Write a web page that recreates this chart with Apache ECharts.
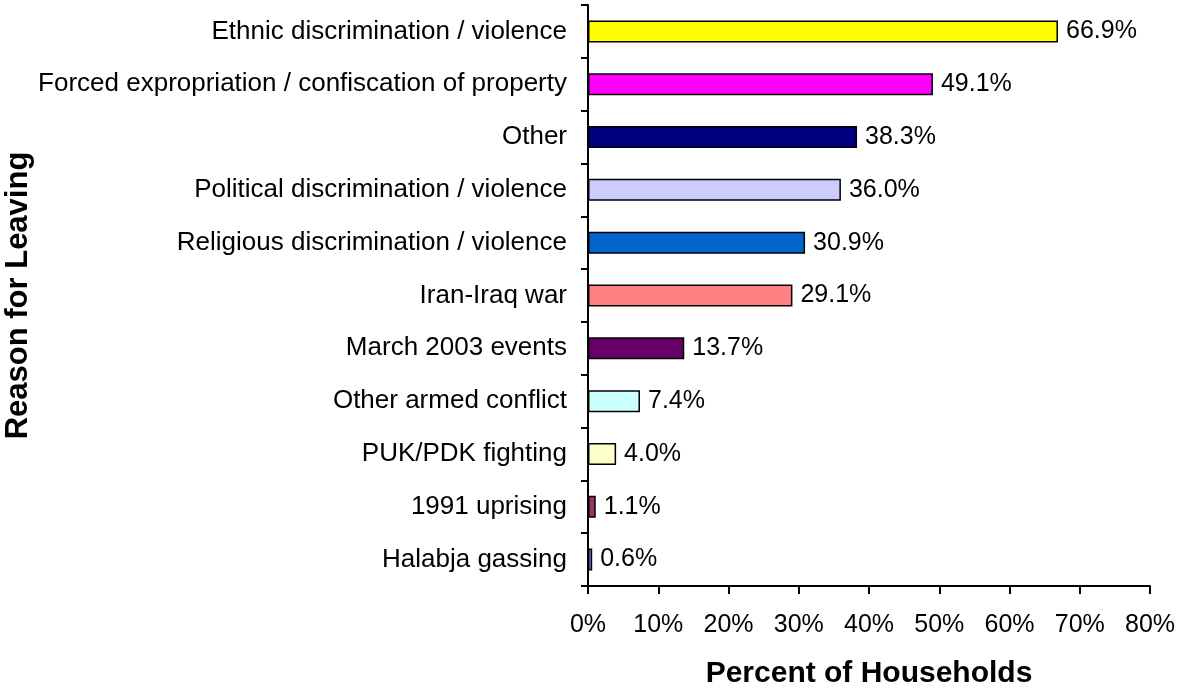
<!DOCTYPE html>
<html><head><meta charset="utf-8">
<script src="https://cdn.jsdelivr.net/npm/echarts@6/dist/echarts.min.js"></script>
<style>html,body{margin:0;padding:0;background:#fff}#c{width:1177px;height:688px}</style>
</head><body><div id="c"></div>
<script>
const categories = ["Halabja gassing","1991 uprising","PUK/PDK fighting","Other armed conflict","March 2003 events","Iran-Iraq war","Religious discrimination / violence","Political discrimination / violence","Other","Forced expropriation / confiscation of property","Ethnic discrimination / violence"];
const values = [0.6,1.1,4.0,7.4,13.7,29.1,30.9,36.0,38.3,49.1,66.9];
const colors = ["#8080FF","#993366","#FFFFCC","#CCFFFF","#660066","#FF8080","#0066CC","#CCCCFF","#000080","#FF00FF","#FFFF00"];
const xTicks = [0,10,20,30,40,50,60,70,80];
const chart = echarts.init(document.getElementById('c'));
const font = 'Liberation Sans, Arial, sans-serif';
chart.setOption({
  animation:false,
  grid:{left:588,right:27,top:5,bottom:102,containLabel:false,outerBoundsMode:'none'},
  xAxis:{type:'value',min:xTicks[0],max:xTicks[xTicks.length-1],interval:10,
    name:'Percent of Households',nameLocation:'middle',nameGap:73,
    nameTextStyle:{fontFamily:font,fontSize:30,fontWeight:'bold',color:'#000'},
    axisLine:{show:true,lineStyle:{color:'#000',width:2}},
    axisTick:{show:true,length:8,lineStyle:{color:'#000',width:2}},
    axisLabel:{formatter:'{value}%',fontFamily:font,fontSize:25,color:'#000',margin:27},
    splitLine:{show:false}},
  yAxis:{type:'category',data:categories,
    name:'Reason for Leaving',nameLocation:'middle',nameGap:524,nameRotate:90,
    nameTextStyle:{fontFamily:font,fontSize:31,fontWeight:'bold',color:'#000'},
    axisLine:{show:true,lineStyle:{color:'#000',width:2}},
    axisTick:{show:true,length:7,lineStyle:{color:'#000',width:2}},
    axisLabel:{fontFamily:font,fontSize:26,color:'#000',margin:21}},
  series:[{type:'bar',barWidth:22,
    data:values.map((v,i)=>({value:v,itemStyle:{color:colors[i]}})),
    itemStyle:{borderColor:'#000',borderWidth:1.5},
    label:{show:true,position:'right',distance:8,fontFamily:font,fontSize:25,color:'#000',
      formatter:p=>p.value.toFixed(1)+'%'}}]
});
</script></body></html>
